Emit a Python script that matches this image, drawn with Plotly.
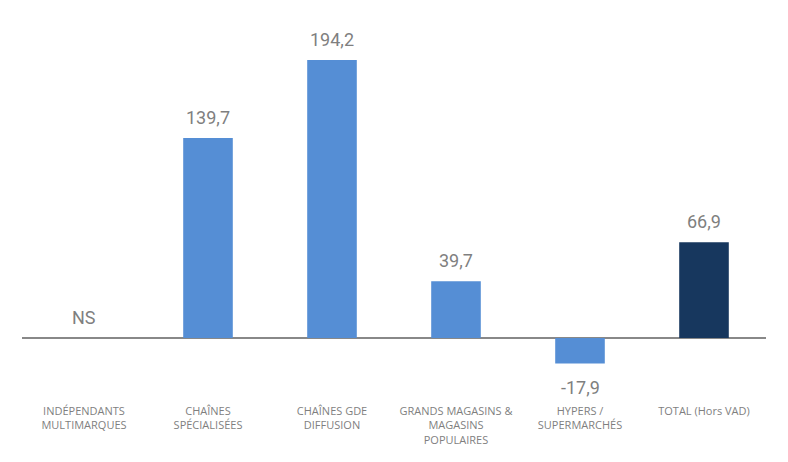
import plotly.graph_objects as go

categories = ["INDÉPENDANTS<br>MULTIMARQUES", "CHAÎNES<br>SPÉCIALISÉES", "CHAÎNES GDE<br>DIFFUSION",
              "GRANDS MAGASINS &<br>MAGASINS<br>POPULAIRES", "HYPERS /<br>SUPERMARCHÉS", "TOTAL (Hors VAD)"]
values = [None, 139.7, 194.2, 39.7, -17.9, 66.9]
labels = ["NS", "139,7", "194,2", "39,7", "-17,9", "66,9"]
colors = ["#558ED5", "#558ED5", "#558ED5", "#558ED5", "#558ED5", "#17375E"]

fig = go.Figure()
fig.add_trace(go.Bar(
    x=categories, y=[v if v is not None else 0 for v in values],
    marker=dict(color=colors, line=dict(width=0)),
    hoverinfo="skip",
))

for c, v, t in zip(categories, values, labels):
    val = v if v is not None else 0
    neg = val < 0
    fig.add_annotation(
        x=c, y=val, text=t, showarrow=False,
        yanchor="top" if neg else "bottom",
        yshift=-11 if neg else 8,
        font=dict(size=18, color="#7f7f7f", family="Roboto"),
    )

fig.update_layout(
    width=788, height=462,
    margin=dict(l=14, r=30, t=22, b=67, autoexpand=False),
    plot_bgcolor="white", paper_bgcolor="white",
    bargap=0.6, showlegend=False,
    xaxis=dict(showgrid=False, showline=False, ticks="", automargin=False,
               tickfont=dict(size=11, color="#7f7f7f", family="Open Sans")),
    yaxis=dict(range=[-45.4, 215.1], showgrid=False, showticklabels=False, automargin=False,
               zeroline=True, zerolinecolor="#888888", zerolinewidth=2),
)
fig.write_html("out.html")
